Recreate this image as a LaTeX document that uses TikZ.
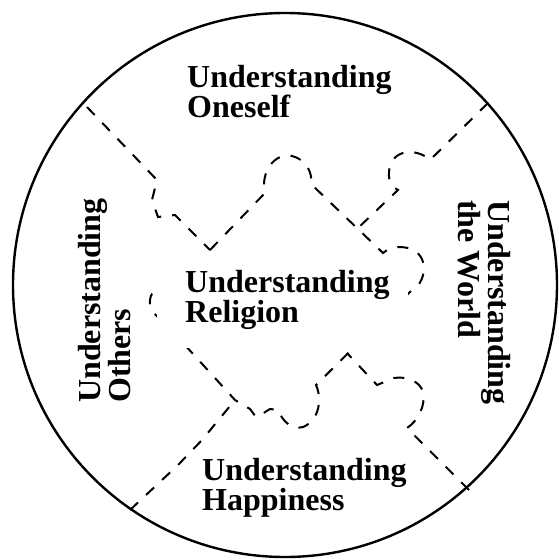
\documentclass[tikz,border=0pt]{standalone}
\usepackage{fontspec}
\setmainfont{Liberation Serif}
\begin{document}
\begin{tikzpicture}[x=1pt,y=-1pt,
  lbl/.style={font=\bfseries\fontsize{32}{30}\selectfont, align=left, inner sep=0pt, anchor=north west},
  seam/.style={line width=2pt, dash pattern=on 11pt off 11pt},
  rim/.style={line width=2.4pt},
  cover/.style={fill=white, draw=none}]
\useasboundingbox (0,0) rectangle (558,560);
\fill[white] (0,0) rectangle (558,560);
% outer rim
\draw[rim] (285,285) circle[radius=272];
\path[cover] (425,522) rectangle (558,560);
% radial seams
\draw[seam] (87,107) -- (157,180) -- (152,200) -- (158,217) -- (175,215) -- (210,250);
\draw[seam] (488,103) -- (430,160) .. controls (420,150) and (396,147) .. (390,166)
  .. controls (387,178) and (390,186) .. (398,190) -- (358,228);
\draw[seam] (469,490) -- (407,428) .. controls (418,421) and (426,405) .. (423,392)
  .. controls (420,381) and (406,376) .. (394,378) -- (377,385) -- (347,353);
\draw[seam] (130,510) -- (178,465) -- (202,440) -- (235,400);
% centre piece
\draw[seam] (210,250) -- (265,193) .. controls (260,172) and (275,152) .. (292,156)
  .. controls (305,159) and (313,172) .. (311,184) -- (383,253)
  .. controls (392,244) and (418,244) .. (423,262) .. controls (426,275) and (420,286) .. (412,290)
  -- (316,385) .. controls (322,398) and (320,420) .. (303,427)
  .. controls (292,430) and (283,422) .. (278,410) -- (270,409) -- (262,414) -- (256,417) -- (250,409)
  -- (235,400) -- (163,321) .. controls (156,316) and (149,310) .. (150,300)
  .. controls (151,290) and (160,284) .. (170,290) -- cycle;
\path[cover] (157,255) rectangle (408,348);
% labels
\node[lbl] (oneself) at (187,65) {Understanding\\Oneself};
\node[lbl] (religion) at (185,270) {Understanding\\Religion};
\node[lbl] (happiness) at (202,458) {Understanding\\Happiness};
\node[lbl, rotate=90] (others) at (78,403) {Understanding\\Others};
\node[lbl, rotate=-90] (world) at (511,200) {Understanding\\the World};
\end{tikzpicture}
\end{document}
